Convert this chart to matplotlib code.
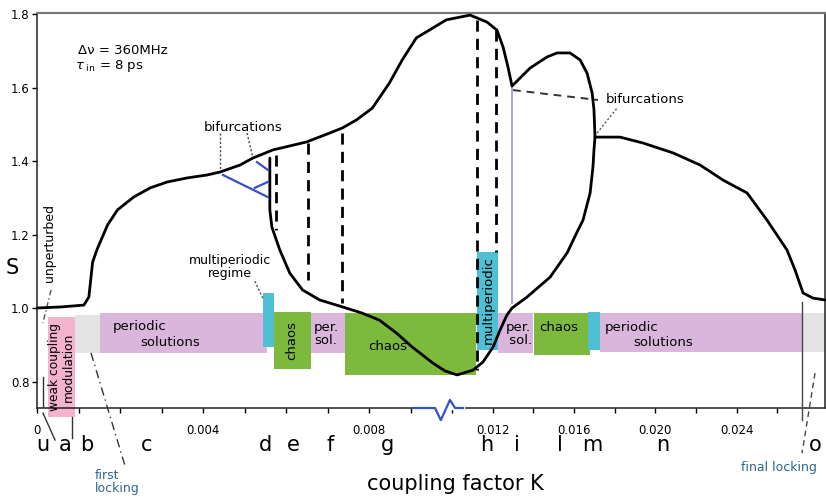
import numpy as np
import matplotlib
matplotlib.use("Agg")
import matplotlib.pyplot as plt

# ---------------- data ----------------
# main branch of S(K): left part, top hump, cusp, second hump, right branch
k_main = [0.0, 0.00058, 0.00113, 0.00125, 0.00134, 0.00146, 0.00170, 0.00194, 0.00233,
          0.00273, 0.00314, 0.00362, 0.00410, 0.00441, 0.00489, 0.00520, 0.00568,
          0.00650, 0.00705, 0.00736, 0.00770, 0.00808, 0.00849, 0.00880, 0.00914,
          0.00945, 0.00986, 0.01089, 0.01172, 0.01221, 0.01251, 0.01275, 0.01295,
          0.01384, 0.01467, 0.01516, 0.01580, 0.01630, 0.01664, 0.01689, 0.01698,
          0.01703, 0.01826, 0.01939, 0.02087, 0.02220, 0.02333, 0.02451, 0.02549,
          0.02647, 0.02687, 0.02726, 0.02775, 0.02834]
s_main = [1.000, 1.003, 1.008, 1.030, 1.125, 1.163, 1.226, 1.267, 1.302,
          1.327, 1.343, 1.354, 1.362, 1.370, 1.389, 1.408, 1.430,
          1.452, 1.476, 1.490, 1.512, 1.544, 1.612, 1.675, 1.735,
          1.756, 1.784, 1.797, 1.778, 1.756, 1.710, 1.656, 1.604,
          1.653, 1.683, 1.694, 1.694, 1.675, 1.639, 1.585, 1.539,
          1.465, 1.465, 1.449, 1.422, 1.389, 1.348, 1.313, 1.239,
          1.158, 1.103, 1.041, 1.027, 1.022]

# lower branch (closed loop back to the fold)
k_loop = [0.01703, 0.01698, 0.01693, 0.01679, 0.01644, 0.01615, 0.01566, 0.01482,
          0.01369, 0.01295, 0.01270, 0.01236, 0.01202, 0.01152, 0.01103, 0.01025,
          0.00983, 0.00954, 0.00904, 0.00866, 0.00825, 0.00784, 0.00736, 0.00681,
          0.00640, 0.00609, 0.00585, 0.00566, 0.00561, 0.00561, 0.00561]
s_loop = [1.465, 1.430, 1.384, 1.313, 1.239, 1.207, 1.150, 1.084,
          1.030, 1.000, 0.981, 0.940, 0.894, 0.853, 0.831, 0.818,
          0.829, 0.850, 0.894, 0.932, 0.967, 0.986, 1.003, 1.022,
          1.049, 1.095, 1.158, 1.220, 1.267, 1.302, 1.408]

# dashed vertical lines
dash_k = [0.00576, 0.00652, 0.00734, 0.01123, 0.01216]
dash_s_low = [1.212, 1.076, 1.014, 0.831, 1.152]
dash_s_high = [1.416, 1.449, 1.476, 1.784, 1.756]

# regime boxes
reg_k0 = [0.00026, 0.00091, 0.00151, 0.00544, 0.00571, 0.00659, 0.00741,
          0.01123, 0.01226, 0.01403, 0.01669, 0.01728, 0.02721]
reg_k1 = [0.00091, 0.00151, 0.00554, 0.00571, 0.00659, 0.00741, 0.01118,
          0.01226, 0.01398, 0.01679, 0.01728, 0.02721, 0.02834]
reg_s0 = [0.703, 0.878, 0.878, 0.894, 0.834, 0.878, 0.818,
          0.886, 0.878, 0.872, 0.886, 0.880, 0.880]
reg_s1 = [0.976, 0.981, 0.986, 1.041, 0.989, 0.986, 0.986,
          1.152, 0.986, 0.986, 0.989, 0.986, 0.986]
reg_kind = ["weak", "locked", "periodic", "multi", "chaos", "periodic", "chaos",
            "multi", "periodic", "chaos", "multi", "periodic", "locked"]

# regime letters
letters = ["u", "a", "b", "c", "d", "e", "f", "g", "h", "i", "l", "m", "n", "o"]
letter_k = [0.00014, 0.00068, 0.00120, 0.00265, 0.00550, 0.00617, 0.00706,
            0.00845, 0.01172, 0.01320, 0.01531, 0.01689, 0.02038, 0.02785]

# axis ticks
xticks_major = [0.0, 0.004, 0.008, 0.012, 0.016, 0.020, 0.024]
xtick_labels = ["0", "0.004", "0.008", "0.012", "0.016", "0.020", "0.024"]
xticks_minor = [0.001, 0.002, 0.003, 0.005, 0.006, 0.007, 0.009, 0.010,
                0.014, 0.018, 0.022, 0.026]
yticks = [0.8, 1.0, 1.2, 1.4, 1.6, 1.8]
ytick_labels = ["0.8", "1.0", "1.2", "1.4", "1.6", "1.8"]

# ---------------- styling ----------------
colors = {"weak": "#f4b3cd", "locked": "#e4e4e4", "periodic": "#dab6dd",
          "multi": "#4fc0d3", "chaos": "#7db93d"}
blue_txt = "#2b6790"

BREAK = 0.010
RATIO = 0.49


def fwd(k):
    k = np.asarray(k, dtype=float)
    return np.where(k <= BREAK, k, BREAK + (k - BREAK) * RATIO)


def inv(p):
    p = np.asarray(p, dtype=float)
    return np.where(p <= BREAK, p, BREAK + (p - BREAK) / RATIO)


W, H = 826, 498
fig = plt.figure(figsize=(W / 100, H / 100), dpi=100)
ax = fig.add_axes([37 / W, 1 - 408 / H, (825 - 37) / W, (408 - 13) / H])
ax.set_xscale("function", functions=(fwd, inv))
ax.set_xlim(0.0, 0.02834)
ax.set_ylim(0.728, 1.8027)

# regime boxes
for k0, k1, s0, s1, kind in zip(reg_k0, reg_k1, reg_s0, reg_s1, reg_kind):
    ax.bar(k0, s1 - s0, width=k1 - k0, bottom=s0, align="edge",
           color=colors[kind], edgecolor="none", zorder=1, clip_on=False)

# curves
ax.plot(k_main, s_main, color="black", lw=2.0, zorder=4, clip_on=False,
        solid_joinstyle="round", solid_capstyle="round")
ax.plot(k_loop, s_loop, color="black", lw=2.0, zorder=4,
        solid_joinstyle="round", solid_capstyle="round")

# dashed verticals
for k, lo, hi in zip(dash_k, dash_s_low, dash_s_high):
    ax.plot([k, k], [hi, lo], color="black", lw=2.0, ls=(0, (4, 2.6)), zorder=4)

# lavender vertical line
ax.plot([0.01295, 0.01295], [1.599, 1.014], color="#a4a4e6", lw=1.4, zorder=3)

# blue bifurcation sketch
bl = "#3552c4"
ax.plot([0.00448, 0.00556], [1.362, 1.302], color=bl, lw=1.6, zorder=4)
ax.plot([0.00525, 0.00556], [1.327, 1.343], color=bl, lw=1.6, zorder=4)
ax.plot([0.00530, 0.00556], [1.397, 1.376], color=bl, lw=1.6, zorder=4)

# annotations
ax.text(0.00496, 1.492, "bifurcations", ha="center", va="center", fontsize=9.5)
ax.plot([0.00441, 0.00441], [1.476, 1.370], ls=(0, (1.5, 1.5)), color="#444", lw=1)
ax.plot([0.00506, 0.00520], [1.476, 1.411], ls=(0, (1.5, 1.5)), color="#444", lw=1)

ax.text(0.01949, 1.566, "bifurcations", ha="center", va="center", fontsize=9.5)
ax.plot([0.01300, 0.01718], [1.593, 1.566], ls=(0, (4, 3)), color="#333", lw=1.4)
ax.plot([0.01713, 0.01816], [1.476, 1.547], ls=(0, (1.5, 1.5)), color="#555", lw=1)

ax.text(0.00465, 1.112, "multiperiodic\nregime", ha="center", va="center",
        fontsize=9, linespacing=1.05)
ax.plot([0.00525, 0.00544], [1.073, 1.027], ls=(0, (1.5, 1.5)), color="#6a4040", lw=1)

ax.text(0.00029, 1.177, "unperturbed", rotation=90, ha="center", va="center", fontsize=9)
ax.plot([0.00034, 0.00014], [1.049, 0.959], ls=(0, (4, 2, 1, 2)), color="#555", lw=1)

ax.text(0.00098, 1.702, "\u0394\u03bd = 360MHz", ha="left", va="center", fontsize=9.5)
ax.text(0.00091, 1.659, r"$\tau_{\ \mathrm{in}}$ = 8 ps", ha="left", va="center", fontsize=9.5)

# texts in boxes
ax.text(0.00059, 0.840, "weak coupling\nmodulation", rotation=90, ha="center",
        va="center", fontsize=8.8, linespacing=1.0, zorder=5)
ax.text(0.00182, 0.951, "periodic", ha="left", va="center", fontsize=9.5, zorder=5)
ax.text(0.00249, 0.907, "solutions", ha="left", va="center", fontsize=9.5, zorder=5)
ax.text(0.00614, 0.913, "chaos", rotation=90, ha="center", va="center", fontsize=9.5, zorder=5)
ax.text(0.00667, 0.930, "per.\nsol.", ha="left", va="center", fontsize=9.5,
        linespacing=1.0, zorder=5)
ax.text(0.00845, 0.894, "chaos", ha="center", va="center", fontsize=9.5, zorder=3)
ax.text(0.01177, 1.022, "multiperiodic", rotation=90, ha="center", va="center",
        fontsize=9.5, zorder=5)
ax.text(0.01325, 0.930, "per.\n sol.", ha="center", va="center", fontsize=9.5,
        linespacing=1.0, zorder=3)
ax.text(0.01428, 0.948, "chaos", ha="left", va="center", fontsize=9.5, zorder=5)
ax.text(0.01752, 0.948, "periodic", ha="left", va="center", fontsize=9.5, zorder=5)
ax.text(0.01890, 0.905, "solutions", ha="left", va="center", fontsize=9.5, zorder=5)

# locking markers below the axis
ax.plot([0.00130, 0.00213], [0.878, 0.567], ls=(0, (6, 3, 1, 3)), color="#333",
        lw=1, clip_on=False, zorder=4)
ax.text(0.00140, 0.562, "first\nlocking", ha="left", va="top", fontsize=9,
        color=blue_txt, linespacing=1.0)
ax.plot([0.02721, 0.02721], [1.016, 0.695], color="#444", lw=1, clip_on=False, zorder=4)
ax.plot([0.02785, 0.02721], [0.823, 0.605], ls=(0, (4, 3)), color="#444", lw=1,
        clip_on=False, zorder=4)
ax.text(0.02608, 0.565, "final locking", ha="center", va="center", fontsize=9,
        color=blue_txt)

# small u / a markers
ax.plot([0.000145, 0.000145], [0.812, 0.728], color="#333", lw=1, zorder=4)
ax.plot([0.000145, 0.000434], [0.714, 0.641], color="#333", lw=1, clip_on=False)
ax.plot([0.000843, 0.000843], [0.703, 0.646], color="#333", lw=1, clip_on=False)

# axis break symbol
ax.plot([0.00959, 0.01054], [0.728, 0.728], color="white", lw=2.5, clip_on=False, zorder=5)
ax.plot([0.00906, 0.00959, 0.00973, 0.00995, 0.01015, 0.01054],
        [0.728, 0.728, 0.695, 0.750, 0.728, 0.728],
        color="#3552c4", lw=1.6, clip_on=False, zorder=6)

# regime letters
for lt, k in zip(letters, letter_k):
    ax.text(k, 0.627, lt, ha="center", va="center", fontsize=15)

# axes formatting
ax.set_xticks(xticks_major)
ax.set_xticklabels(xtick_labels)
ax.set_xticks(xticks_minor, minor=True)
ax.set_yticks(yticks)
ax.set_yticklabels(ytick_labels)
ax.tick_params(axis="x", which="both", direction="out", length=3.5, width=1,
               labelsize=8.5, pad=8)
ax.tick_params(axis="y", which="both", direction="out", length=3.5, width=1,
               labelsize=8.5, pad=2)
for side in ["left", "bottom", "right"]:
    ax.spines[side].set_linewidth(1.1)
    ax.spines[side].set_color("#222")
ax.spines["top"].set_linewidth(1.6)
ax.spines["top"].set_color("#777")

fig.text(12 / W, 1 - 268 / H, "S", fontsize=15, ha="center", va="center")
fig.text(455 / W, 1 - 484 / H, "coupling factor K", fontsize=15, ha="center", va="center")

fig.savefig("out.png", dpi=100)
